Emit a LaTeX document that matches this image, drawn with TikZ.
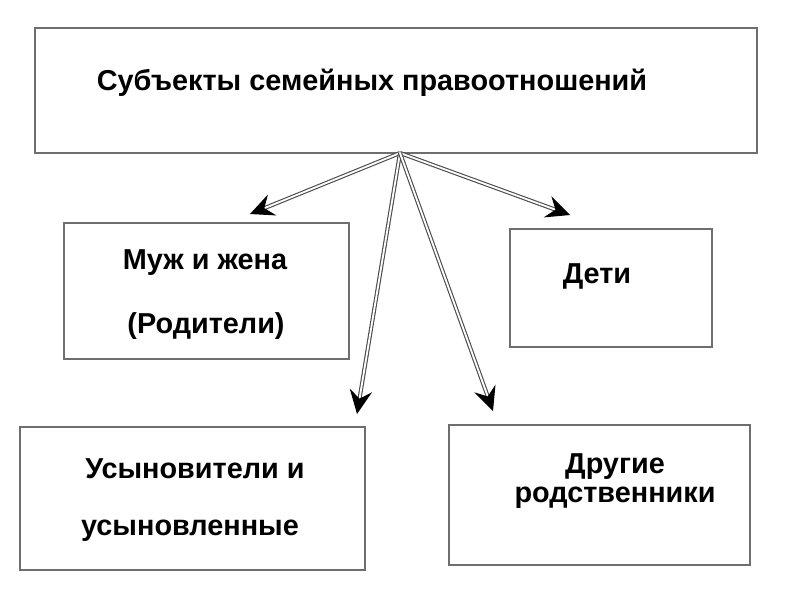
\documentclass[tikz,border=0pt]{standalone}
\usepackage{fontspec}
\setmainfont{Liberation Sans}
\usetikzlibrary{arrows.meta}
\definecolor{frame}{RGB}{110,110,110}

\begin{document}
\begin{tikzpicture}[x=0.025cm,y=-0.025cm,
  lbl/.style={font=\bfseries\fontsize{20.5}{24}\selectfont,inner sep=0pt},
  link/.style={draw=frame!70!black,double=white,double distance=1.3pt,line width=0.8pt,
    -{Stealth[black,length=17pt,width=16pt,inset=6pt]}}]
  \useasboundingbox (0,0) rectangle (800,600);
  % boxes
  \draw[frame,line width=0.8pt] (35,28) rectangle (757,153);
  \draw[frame,line width=0.8pt] (64,223) rectangle (349,359);
  \draw[frame,line width=0.8pt] (510,229) rectangle (712,347);
  \draw[frame,line width=0.8pt] (20,427) rectangle (365,570);
  \draw[frame,line width=0.8pt] (449,425) rectangle (750,565);
  % labels
  \node[lbl] (title) at (372,83) {Субъекты семейных правоотношений};
  \node[lbl] (spouses) at (205,263) {Муж и жена};
  \node[lbl] (parents) at (206,326) {(Родители)};
  \node[lbl] (kids) at (597,276) {Дети};
  \node[lbl] (adopt) at (195,469) {Усыновители и};
  \node[lbl] (adopted) at (190,531) {усыновленные};
  \node[lbl] (other) at (615,467) {Другие};
  \node[lbl] (relatives) at (615,498) {родственники};
  % arrows
  \coordinate (src) at (400,153);
  \coordinate (tipA) at (250,214);
  \coordinate (tipB) at (570,215);
  \coordinate (tipC) at (357,414);
  \coordinate (tipD) at (493,411);
  \foreach \t in {tipA,tipB,tipC,tipD}
    \draw[link] (src) -- (\t);
\end{tikzpicture}
\end{document}
